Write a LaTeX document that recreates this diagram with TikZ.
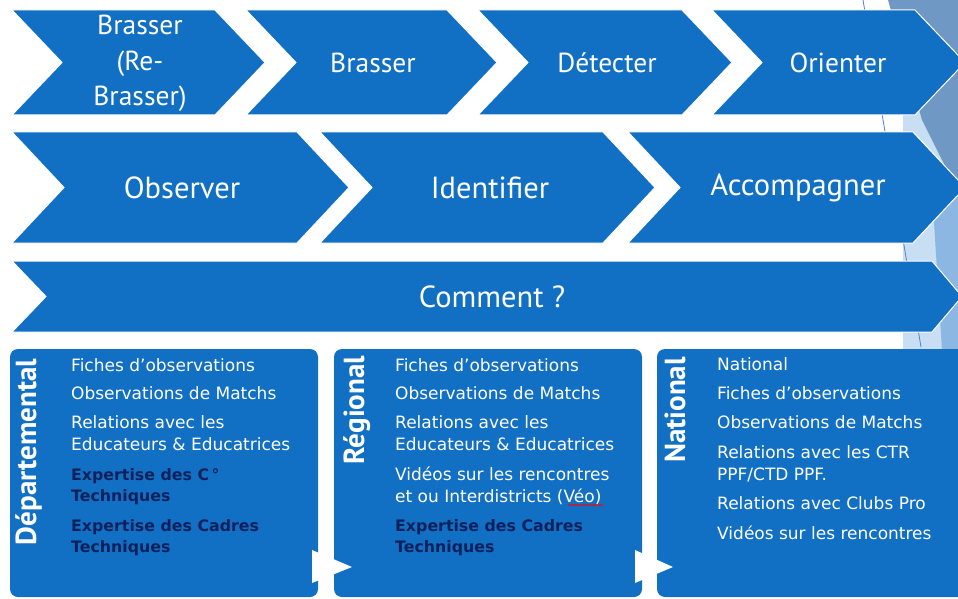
\documentclass[tikz,border=0pt]{standalone}
\usepackage{fontspec}
\setmainfont{PT Sans}
\newfontfamily\itemfont{DejaVu Sans}
\usetikzlibrary{decorations.pathmorphing}
\definecolor{cblue}{RGB}{18,112,196}
\definecolor{csteel}{RGB}{112,152,196}
\definecolor{clight}{RGB}{200,222,242}
\definecolor{cmed}{RGB}{140,183,226}
\definecolor{cdark}{RGB}{12,33,92}
\begin{document}
\begin{tikzpicture}[x=1pt,y=-1pt,
  chev/.style={fill=cblue,draw=white,line width=1pt},
  box/.style={fill=cblue,rounded corners=8pt},
  tri/.style={fill=white},
  lblA/.style={text=white,align=center,inner sep=0,font=\fontsize{27.5}{35.5}\selectfont},
  lblB/.style={text=white,align=center,inner sep=0,font=\fontsize{30.5}{36}\selectfont},
  vlbl/.style={text=white,rotate=90,anchor=base,inner sep=0,font=\bfseries\fontsize{29}{32}\selectfont},
  itm/.style={anchor=base west,inner sep=0,text=white,font=\itemfont\fontsize{17}{20}\selectfont},
  itd/.style={itm,text=cdark,font=\itemfont\bfseries\fontsize{15.8}{20}\selectfont}]
\useasboundingbox (0,0) rectangle (958,599);
\fill[white] (0,0) rectangle (958,599);
% background decoration
\fill[clight] (903,105) -- (930,105) -- (958,190) -- (958,350) -- (903,350) -- cycle;
\fill[cmed] (932,190) -- (958,180) -- (958,350) -- (942,350) -- cycle;
\fill[csteel] (888,0) -- (958,0) -- (958,192) -- (922,120) -- cycle;
\draw[csteel!80!blue,line width=0.8pt] (863,0) -- (921,347);
% row 1
\path[chev] (12,10) -- (215,10) -- (265,62.5) -- (215,115) -- (12,115) -- (62,62.5) -- cycle;
\path[chev] (246,10) -- (447,10) -- (497,62.5) -- (447,115) -- (246,115) -- (296,62.5) -- cycle;
\path[chev] (478,10) -- (682,10) -- (732,62.5) -- (682,115) -- (478,115) -- (528,62.5) -- cycle;
\path[chev] (712,10) -- (915,10) -- (965,62.5) -- (915,115) -- (712,115) -- (762,62.5) -- cycle;
\node[lblA] (a1) at (140,63.5) {Brasser\\(Re-\\Brasser)};
\node[lblA] (a2) at (373,62.5) {Brasser};
\node[lblA] (a3) at (607,62.5) {Détecter};
\node[lblA] (a4) at (838,62.5) {Orienter};
% row 2
\path[chev] (12,132) -- (297,132) -- (349,187.5) -- (297,243) -- (12,243) -- (64,187.5) -- cycle;
\path[chev] (320,132) -- (603,132) -- (655,187.5) -- (603,243) -- (320,243) -- (372,187.5) -- cycle;
\path[chev] (628,132) -- (913,132) -- (965,187.5) -- (913,243) -- (628,243) -- (680,187.5) -- cycle;
\node[lblB] (b1) at (182,187.5) {Observer};
\node[lblB] (b2) at (490,187.5) {Identifier};
\node[lblB] (b3) at (798,187.5) {Accompagner};
% row 3
\path[chev] (12,261) -- (932,261) -- (962,296.5) -- (932,332) -- (12,332) -- (46,296.5) -- cycle;
\node[lblB] (c1) at (492,296.5) {Comment ?};
% boxes
\path[box] (10,349) rectangle (318,597);
\path[box] (334,349) rectangle (642,597);
\path[box] (657,349) rectangle (975,597);
\path[tri] (312,550) -- (352,567) -- (312,583) -- cycle;
\path[tri] (635,550) -- (673,567) -- (635,583) -- cycle;
% vertical labels
\node[vlbl] (v1) at (36,452) {Départemental};
\node[vlbl] (v2) at (364,410) {Régional};
\node[vlbl] (v3) at (685,410) {National};
% box 1 items
\node[itm] (d1) at (71,371) {Fiches d’observations};
\node[itm] (d2) at (71,399) {Observations de Matchs};
\node[itm] (d3) at (71,428) {Relations avec les};
\node[itm] (d4) at (71,450) {Educateurs \& Educatrices};
\node[itd] (d5) at (71,480) {Expertise des C\,°};
\node[itd] (d6) at (71,501) {Techniques};
\node[itd] (d7) at (71,531) {Expertise des Cadres};
\node[itd] (d8) at (71,552) {Techniques};
% box 2 items
\node[itm] (r1) at (395,371) {Fiches d’observations};
\node[itm] (r2) at (395,399) {Observations de Matchs};
\node[itm] (r3) at (395,428) {Relations avec les};
\node[itm] (r4) at (395,450) {Educateurs \& Educatrices};
\node[itm] (r5) at (395,480) {Vidéos sur les rencontres};
\node[itm] (r6) at (395,502) {et ou Interdistricts (Véo)};
\node[itd] (r7) at (395,531) {Expertise des Cadres};
\node[itd] (r8) at (395,552) {Techniques};
\draw[red,line width=0.6pt,decorate,decoration={zigzag,amplitude=0.8pt,segment length=2.5pt}] (568,505) -- (603,505);
% box 3 items
\node[itm] (n1) at (717,370) {National};
\node[itm] (n2) at (717,399) {Fiches d’observations};
\node[itm] (n3) at (717,428) {Observations de Matchs};
\node[itm] (n4) at (717,458) {Relations avec les CTR};
\node[itm] (n5) at (717,480) {PPF/CTD PPF.};
\node[itm] (n6) at (717,509) {Relations avec Clubs Pro};
\node[itm] (n7) at (717,539) {Vidéos sur les rencontres};
\end{tikzpicture}
\end{document}
